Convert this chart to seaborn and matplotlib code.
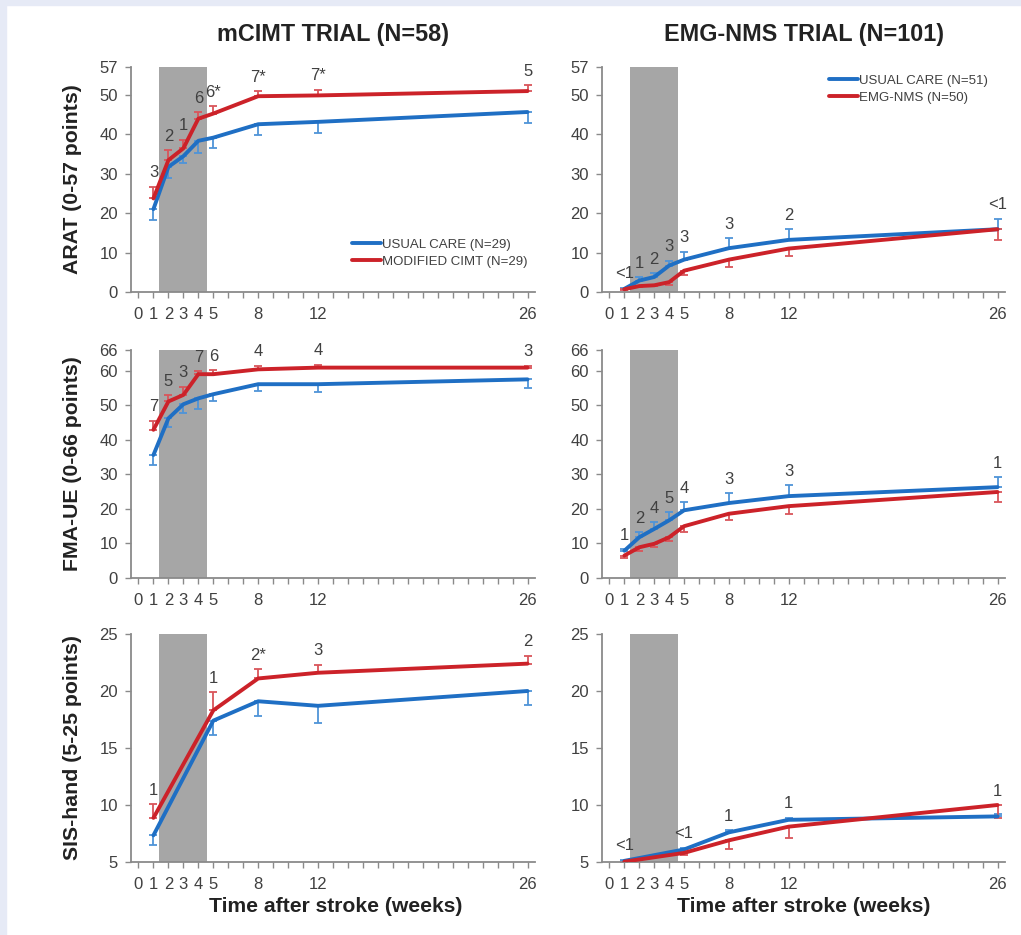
import numpy as np
import pandas as pd
import matplotlib
matplotlib.use("Agg")
import matplotlib.pyplot as plt
from matplotlib.patches import Rectangle
from matplotlib.lines import Line2D
import seaborn as sns

# ---------------- data ----------------
weeks_full = [1, 2, 3, 4, 5, 8, 12, 26]
weeks_sis = [1, 5, 8, 12, 26]

# mCIMT trial
arat_mc_usual = [21.0, 31.7, 34.4, 38.3, 39.1, 42.5, 43.1, 45.6]
arat_mc_usual_se = [2.7, 2.7, 1.8, 3.2, 2.5, 2.8, 2.9, 2.9]
arat_mc_cimt = [23.7, 33.4, 36.4, 43.9, 45.2, 49.6, 49.8, 50.9]
arat_mc_cimt_se = [3.0, 2.6, 2.2, 1.7, 1.9, 1.3, 1.5, 1.5]
arat_mc_ann = ["3", "2", "1", "6", "6*", "7*", "7*", "5"]

fma_mc_usual = [35.6, 46.2, 50.3, 52.0, 53.2, 56.1, 56.1, 57.5]
fma_mc_usual_se = [2.8, 2.4, 2.6, 3.1, 2.1, 2.0, 2.3, 2.4]
fma_mc_cimt = [42.9, 51.1, 53.0, 59.0, 59.0, 60.4, 60.9, 60.9]
fma_mc_cimt_se = [2.6, 1.9, 2.4, 0.9, 1.2, 1.1, 0.9, 0.6]
fma_mc_ann = ["7", "5", "3", "7", "6", "4", "4", "3"]

sis_mc_usual = [7.34, 17.4, 19.1, 18.7, 20.0]
sis_mc_usual_se = [0.84, 1.3, 1.3, 1.55, 1.2]
sis_mc_cimt = [8.87, 18.3, 21.1, 21.6, 22.4]
sis_mc_cimt_se = [1.2, 1.6, 0.8, 0.7, 0.7]
sis_mc_ann = ["1", "1", "2*", "3", "2"]

# EMG-NMS trial
arat_em_usual = [0.8, 2.9, 3.8, 6.7, 8.2, 11.1, 13.2, 15.9]
arat_em_usual_se = [0.3, 0.9, 1.0, 1.2, 2.0, 2.5, 2.7, 2.7]
arat_em_nms = [0.7, 1.5, 1.7, 2.5, 5.4, 8.2, 11.0, 15.9]
arat_em_nms_se = [0.3, 0.3, 0.3, 0.7, 1.2, 1.9, 2.0, 2.8]
arat_em_ann = ["<1", "1", "2", "3", "3", "3", "2", "<1"]

fma_em_usual = [7.9, 11.8, 14.2, 16.7, 19.6, 21.7, 23.7, 26.3]
fma_em_usual_se = [0.5, 1.5, 2.0, 2.4, 2.4, 2.9, 3.1, 2.9]
fma_em_nms = [6.5, 8.9, 9.9, 11.8, 15.0, 18.6, 20.8, 24.9]
fma_em_nms_se = [0.8, 1.0, 1.0, 1.0, 1.7, 1.9, 2.4, 2.9]
fma_em_ann = ["1", "2", "4", "5", "4", "3", "3", "1"]

sis_em_usual = [5.1, 6.1, 7.6, 8.7, 9.0]
sis_em_usual_se = [0.1, 0.15, 0.2, 0.2, 0.2]
sis_em_nms = [5.03, 5.8, 6.9, 8.1, 10.0]
sis_em_nms_se = [0.1, 0.2, 0.8, 1.0, 1.1]
sis_em_ann = ["<1", "<1", "1", "1", "1"]

xtick_labels = {0: "0", 1: "1", 2: "2", 3: "3", 4: "4", 5: "5", 8: "8", 12: "12", 26: "26"}
titles = ["mCIMT TRIAL (N=58)", "EMG-NMS TRIAL (N=101)"]
ylabels = ["ARAT (0-57 points)", "FMA-UE (0-66 points)", "SIS-hand (5-25 points)"]
xlabel = "Time after stroke (weeks)"
legend_left = ["USUAL CARE (N=29)", "MODIFIED CIMT (N=29)"]
legend_right = ["USUAL CARE (N=51)", "EMG-NMS (N=50)"]

# ---------------- style ----------------
sns.set_style("ticks")
plt.rcParams["font.family"] = ["Liberation Sans", "DejaVu Sans"]

BLUE = "#1f6fc4"
RED = "#cc2229"
BLUE_E = "#4f94d8"
RED_E = "#d9555a"
GREY_TXT = "#404040"
SPINE = "#8a8a8a"
TICK_FS = 12

W, H = 1021, 935
fig = plt.figure(figsize=(W / 100, H / 100), dpi=100)
fig.patch.set_facecolor("white")
bg = "#e6eaf6"
fig.patches.append(Rectangle((0, 0), 6 / W, 1, transform=fig.transFigure, color=bg, zorder=-10))
fig.patches.append(Rectangle((0, 1 - 5 / H), 1, 5 / H, transform=fig.transFigure, color=bg, zorder=-10))

def px_axes(x0, x1, y0, y1):
    return fig.add_axes([x0 / W, 1 - y1 / H, (x1 - x0) / W, (y1 - y0) / H])

col_x = [(131, 535), (602, 1005)]
row_y = [(67, 292), (350, 578), (634, 862)]

panels = [
    [(weeks_full, arat_mc_usual, arat_mc_usual_se, arat_mc_cimt, arat_mc_cimt_se, arat_mc_ann, (0, 57), [0, 10, 20, 30, 40, 50, 57]),
     (weeks_full, arat_em_usual, arat_em_usual_se, arat_em_nms, arat_em_nms_se, arat_em_ann, (0, 57), [0, 10, 20, 30, 40, 50, 57])],
    [(weeks_full, fma_mc_usual, fma_mc_usual_se, fma_mc_cimt, fma_mc_cimt_se, fma_mc_ann, (0, 66), [0, 10, 20, 30, 40, 50, 60, 66]),
     (weeks_full, fma_em_usual, fma_em_usual_se, fma_em_nms, fma_em_nms_se, fma_em_ann, (0, 66), [0, 10, 20, 30, 40, 50, 60, 66])],
    [(weeks_sis, sis_mc_usual, sis_mc_usual_se, sis_mc_cimt, sis_mc_cimt_se, sis_mc_ann, (5, 25), [5, 10, 15, 20, 25]),
     (weeks_sis, sis_em_usual, sis_em_usual_se, sis_em_nms, sis_em_nms_se, sis_em_ann, (5, 25), [5, 10, 15, 20, 25])],
]

# error-bar direction: mCIMT -> usual down, treatment up; EMG -> usual up, treatment down
err_dir = [("down", "up"), ("up", "down")]

for r in range(3):
    for c in range(2):
        wk, u, use, t, tse, ann, ylim, yt = panels[r][c]
        ax = px_axes(col_x[c][0], col_x[c][1], row_y[r][0], row_y[r][1])
        ax.set_facecolor("none")
        ax.axvspan(1.4, 4.6, color="#a6a6a6", lw=0, zorder=0)
        df = pd.DataFrame({
            "week": list(wk) + list(wk),
            "score": list(u) + list(t),
            "group": ["usual"] * len(wk) + ["treat"] * len(wk),
        })
        sns.lineplot(data=df, x="week", y="score", hue="group",
                     palette={"usual": BLUE, "treat": RED}, hue_order=["usual", "treat"],
                     lw=2.8, legend=False, ax=ax, sort=False, zorder=3)
        wk_a = np.array(wk, float)
        for vals, se, col, d in ((u, use, BLUE_E, err_dir[c][0]), (t, tse, RED_E, err_dir[c][1])):
            se = np.array(se, float)
            z = np.zeros_like(se)
            yerr = [z, se] if d == "up" else [se, z]
            ax.errorbar(wk_a, vals, yerr=yerr, fmt="none", ecolor=col, elinewidth=1.3,
                        capsize=3, capthick=1.3, zorder=2)
        for i, w in enumerate(wk):
            tops = []
            for vals, se, d in ((u, use, err_dir[c][0]), (t, tse, err_dir[c][1])):
                tops.append(vals[i] + (se[i] if d == "up" else 0))
            ytop = max(tops)
            ax.annotate(ann[i], (w, ytop), xytext=(0, 10), textcoords="offset points",
                        ha="center", va="center", fontsize=TICK_FS, color=GREY_TXT, zorder=5)
        ax.set_xlim(-0.5, 26.5)
        ax.set_ylim(*ylim)
        ax.set_xticks(range(27))
        ax.set_xticklabels([xtick_labels.get(k, "") for k in range(27)])
        ax.set_yticks(yt)
        ax.set_xlabel("")
        ax.set_ylabel("")
        for s in ("top", "right"):
            ax.spines[s].set_visible(False)
        for s in ("left", "bottom"):
            ax.spines[s].set_color(SPINE)
            ax.spines[s].set_linewidth(1.3)
        ax.tick_params(axis="both", colors=SPINE, labelcolor=GREY_TXT, labelsize=TICK_FS,
                       length=4.5, width=1.0)
        ax.tick_params(axis="x", pad=6)
        ax.tick_params(axis="y", pad=5)
        if r == 0:
            labels = legend_left if c == 0 else legend_right
            handles = [Line2D([], [], color=BLUE, lw=2.8), Line2D([], [], color=RED, lw=2.8)]
            if c == 0:
                ax.legend(handles, labels, loc="lower left", bbox_to_anchor=(0.535, 0.085),
                          frameon=False, fontsize=9.5, handlelength=2.2, handletextpad=0.05,
                          labelcolor=GREY_TXT, labelspacing=0.35, borderaxespad=0)
            else:
                ax.legend(handles, labels, loc="upper left", bbox_to_anchor=(0.55, 0.99),
                          frameon=False, fontsize=9.5, handlelength=2.2, handletextpad=0.05,
                          labelcolor=GREY_TXT, labelspacing=0.35, borderaxespad=0)

for c in range(2):
    xc = (col_x[c][0] + col_x[c][1]) / 2 / W
    fig.text(xc, 1 - 35 / H, titles[c], ha="center", va="center", fontsize=16.8,
             fontweight="bold", color="#222222")
    fig.text(xc + (0.003 if c == 0 else 0), 1 - 907 / H, xlabel, ha="center", va="center",
             fontsize=15.2, fontweight="bold", color="#222222")

for r in range(3):
    yc = 1 - (row_y[r][0] + row_y[r][1]) / 2 / H
    fig.text(72 / W, yc, ylabels[r], ha="center", va="center", rotation=90,
             fontsize=15.3, fontweight="bold", color="#222222")

fig.savefig("out.png", dpi=100, facecolor=fig.get_facecolor())
